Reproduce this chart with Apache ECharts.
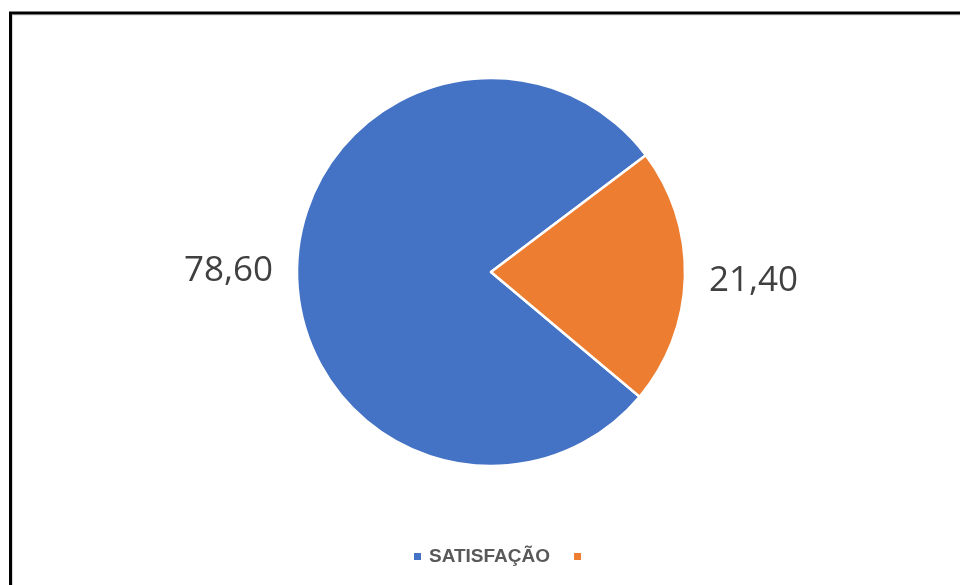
<!DOCTYPE html>
<html>
<head>
<meta charset="utf-8">
<script src="https://cdn.jsdelivr.net/npm/echarts@6/dist/echarts.min.js"></script>
<style>
html,body{margin:0;padding:0;background:#fff;}
#chart{width:960px;height:585px;}
</style>
</head>
<body>
<div id="chart"></div>
<script>
const categories = ['SATISFAÇÃO', ' '];
const values = [78.6, 21.4];
const colors = ['#4472C4', '#ED7D31'];

const chart = echarts.init(document.getElementById('chart'), null, {renderer: 'canvas'});
const option = {
  animation: false,
  backgroundColor: '#ffffff',
  graphic: [
    {type: 'rect', shape: {x: 12.5, y: 15, width: 1000, height: 1000}, style: {fill: 'none', stroke: '#d9d9d9', lineWidth: 1}, silent: true, z: 0},
    {type: 'rect', shape: {x: 10.5, y: 13, width: 1000, height: 1000}, style: {fill: 'none', stroke: '#000000', lineWidth: 3}, silent: true, z: 0}
  ],
  legend: {
    left: 407,
    top: 542,
    itemWidth: 9,
    itemHeight: 9,
    itemGap: 22,
    icon: 'rect',
    data: categories,
    textStyle: {
      fontFamily: 'Liberation Sans',
      fontWeight: 'bold',
      fontSize: 19,
      color: '#595959',
      padding: [0, 0, 0, 2]
    }
  },
  series: [{
    type: 'pie',
    center: [491, 272],
    radius: [0, 194],
    startAngle: -40,
    clockwise: true,
    avoidLabelOverlap: false,
    data: categories.map((c, i) => ({name: c, value: values[i], itemStyle: {color: colors[i]}})),
    itemStyle: {borderColor: '#ffffff', borderWidth: 2.5},
    label: {
      show: true,
      position: 'outside',
      formatter: p => p.value.toFixed(2).replace('.', ','),
      fontFamily: 'Open Sans',
      fontSize: 35,
      color: '#404040'
    },
    labelLine: {show: false, length: 8, length2: 11},
    labelLayout: {dy: 4},
    emphasis: {disabled: true}
  }]
};
chart.setOption(option);
</script>
</body>
</html>
